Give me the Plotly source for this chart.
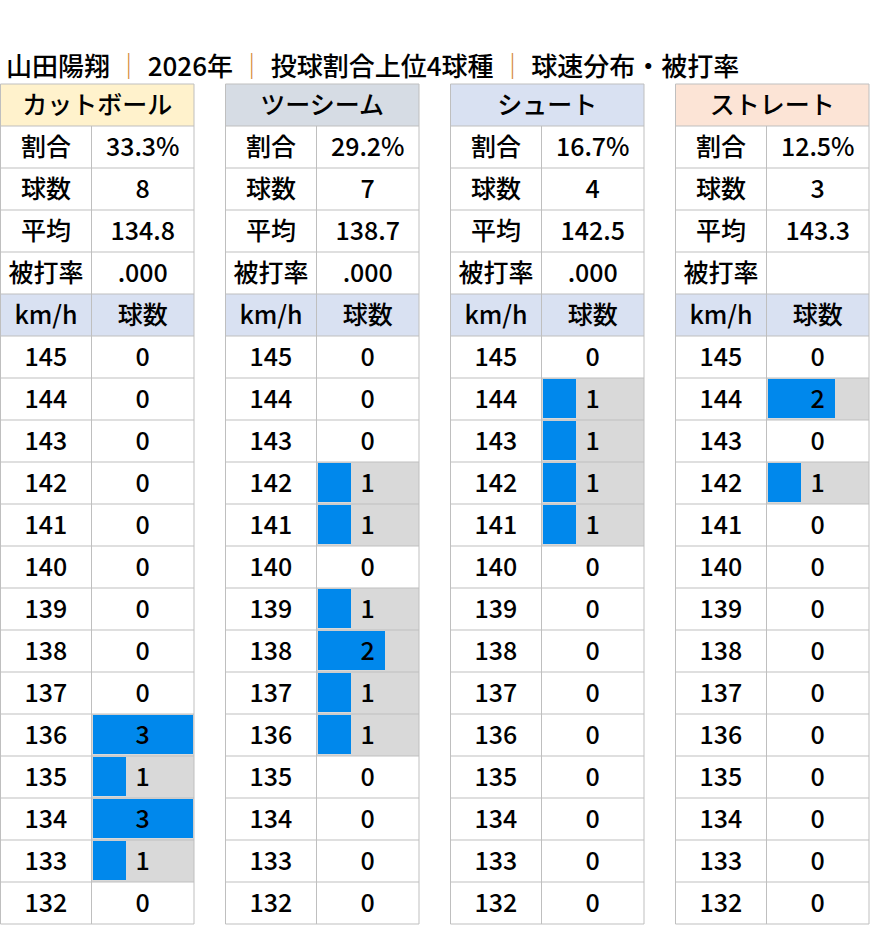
import plotly.graph_objects as go

# ---- data ----
title_parts = ["山田陽翔", "2026年", "投球割合上位4球種", "球速分布・被打率"]
pitch_names = ["カットボール", "ツーシーム", "シュート", "ストレート"]
header_colors = ["#FFF2CC", "#D6DCE4", "#D9E1F2", "#FCE4D6"]
stat_labels = ["割合", "球数", "平均", "被打率"]
ratio = ["33.3%", "29.2%", "16.7%", "12.5%"]
pitch_count = ["8", "7", "4", "3"]
avg_speed = ["134.8", "138.7", "142.5", "143.3"]
avg_hit = [".000", ".000", ".000", ""]
speeds = [145, 144, 143, 142, 141, 140, 139, 138, 137, 136, 135, 134, 133, 132]
cut = [0, 0, 0, 0, 0, 0, 0, 0, 0, 3, 1, 3, 1, 0]
two_seam = [0, 0, 0, 1, 1, 0, 1, 2, 1, 1, 0, 0, 0, 0]
shoot = [0, 1, 1, 1, 1, 0, 0, 0, 0, 0, 0, 0, 0, 0]
straight = [0, 2, 0, 1, 0, 0, 0, 0, 0, 0, 0, 0, 0, 0]
dist = [cut, two_seam, shoot, straight]

# ---- geometry / style ----
W, H = 871, 926
PANEL_X = [0.5, 225.5, 450.5, 675.5]
LABEL_W = 91
VALUE_W = 193.5 - 91
ROW_TOP_PX = 84
ROW_H_PX = 42
TEXT_DY = 0.07   # nudge text down a little to sit centred like the original
FONT = "Noto Sans CJK JP"
FS = 25
GRID = "#BFBFBF"
BAR_BG = "#D9D9D9"
BAR = "#0088EC"
SUB_HEAD = "#D9E1F2"
SEP = "#D4883A"

stats = [ratio, pitch_count, avg_speed, avg_hit]
n_rows = 6 + len(speeds)
scale_max = max(max(d) for d in dist)

fig = go.Figure()
shapes = []

# header backgrounds
for p in range(4):
    x0 = PANEL_X[p]
    shapes.append(dict(type="rect", xref="x", yref="y", x0=x0, x1=x0 + LABEL_W + VALUE_W,
                       y0=0, y1=1, fillcolor=header_colors[p], line_width=0, layer="below"))
    shapes.append(dict(type="rect", xref="x", yref="y", x0=x0, x1=x0 + LABEL_W + VALUE_W,
                       y0=5, y1=6, fillcolor=SUB_HEAD, line_width=0, layer="below"))

# data bars
for p in range(4):
    x0 = PANEL_X[p] + LABEL_W
    ys = [6 + i + 0.5 for i, c in enumerate(dist[p]) if c > 0]
    cs = [c for c in dist[p] if c > 0]
    fig.add_trace(go.Bar(orientation="h", y=ys, x=[VALUE_W] * len(cs), base=x0,
                         width=1.0, marker=dict(color=BAR_BG, line_width=0),
                         hoverinfo="skip", showlegend=False))
    fig.add_trace(go.Bar(orientation="h", y=[y - 0.012 for y in ys],
                         x=[(VALUE_W - 2) * c / scale_max for c in cs], base=x0 + 1,
                         width=0.93, marker=dict(color=BAR, line_width=0),
                         hoverinfo="skip", showlegend=False))

# grid lines
for p in range(4):
    x0 = PANEL_X[p]
    x1 = x0 + LABEL_W + VALUE_W
    for r in range(n_rows + 1):
        shapes.append(dict(type="line", xref="x", yref="y", x0=x0, x1=x1, y0=r, y1=r,
                           line=dict(color=GRID, width=1), layer="above"))
    shapes.append(dict(type="line", xref="x", yref="y", x0=x0, x1=x0, y0=0, y1=n_rows,
                       line=dict(color=GRID, width=1), layer="above"))
    shapes.append(dict(type="line", xref="x", yref="y", x0=x1, x1=x1, y0=0, y1=n_rows,
                       line=dict(color=GRID, width=1), layer="above"))
    shapes.append(dict(type="line", xref="x", yref="y", x0=x0 + LABEL_W, x1=x0 + LABEL_W,
                       y0=1, y1=n_rows, line=dict(color=GRID, width=1), layer="above"))

# texts
tx, ty, tt = [], [], []
for p in range(4):
    x0 = PANEL_X[p]
    cl = x0 + LABEL_W / 2
    cv = x0 + LABEL_W + VALUE_W / 2
    tx.append(x0 + (LABEL_W + VALUE_W) / 2); ty.append(0.5); tt.append(pitch_names[p])
    for i, lab in enumerate(stat_labels):
        tx.append(cl); ty.append(1 + i + 0.5); tt.append(lab)
        tx.append(cv); ty.append(1 + i + 0.5); tt.append(stats[i][p])
    tx.append(cl); ty.append(5.5); tt.append("km/h")
    tx.append(cv); ty.append(5.5); tt.append("球数")
    for i, s in enumerate(speeds):
        tx.append(cl); ty.append(6 + i + 0.5); tt.append(str(s))
        tx.append(cv); ty.append(6 + i + 0.5); tt.append(str(dist[p][i]))
ty = [y + TEXT_DY for y in ty]

fig.add_trace(go.Scatter(x=tx, y=ty, text=tt, mode="text", textposition="middle center",
                         textfont=dict(family=FONT, size=FS, color="#000000", weight=500),
                         hoverinfo="skip", showlegend=False, cliponaxis=False))

sep = ' <span style="color:%s">｜</span> ' % SEP
fig.add_annotation(x=4, y=-0.47, xref="x", yref="y", xanchor="left", yanchor="middle",
                   text=sep.join(title_parts), showarrow=False,
                   font=dict(family=FONT, size=26, color="#000000", weight=500))

fig.update_layout(
    width=W, height=H, margin=dict(l=0, r=0, t=0, b=0),
    paper_bgcolor="white", plot_bgcolor="white", shapes=shapes,
    barmode="overlay", bargap=0,
    xaxis=dict(range=[0, W], visible=False, fixedrange=True),
    yaxis=dict(range=[(H - ROW_TOP_PX) / ROW_H_PX, -ROW_TOP_PX / ROW_H_PX],
               visible=False, fixedrange=True),
)

fig.write_html("out.html", config={"displayModeBar": False},
               post_script="document.body.style.margin='0';")
